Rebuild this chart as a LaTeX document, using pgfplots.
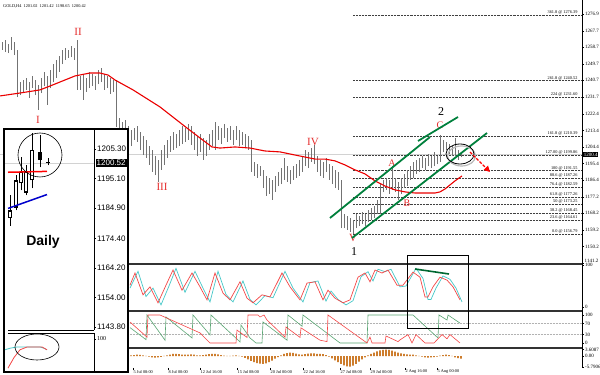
\documentclass[border=0pt]{standalone}
\usepackage{pgfplots}
\pgfplotsset{compat=1.18}
\usepackage{pgfplotstable}
\usepackage{fontspec}
\setmainfont{Liberation Serif}
\newfontfamily\arial{Liberation Sans}
\usetikzlibrary{arrows.meta}
\definecolor{mared}{RGB}{235,0,0}
\definecolor{lblred}{RGB}{230,45,45}
\definecolor{chgreen}{RGB}{0,128,60}
\definecolor{stcyan}{RGB}{70,200,200}
\definecolor{stred}{RGB}{245,70,70}
\definecolor{argreen}{RGB}{90,165,115}
\definecolor{osma}{RGB}{205,125,45}
\definecolor{barg}{RGB}{115,115,115}
\newcommand{\tk}{\fontsize{5}{6}\selectfont}
\newcommand{\fb}{\fontsize{4.3}{5}\selectfont}

\pgfplotsset{mt/.style={scale only axis, width=582pt, xmin=0, xmax=582,
  axis x line=none, axis y line*=right,
  axis line style={black, line width=0.5pt},
  every tick/.style={black, line width=0.4pt},
  major tick length=2pt, tick align=outside,
  yticklabel style={font=\tk, inner sep=1pt}, xtick=\empty},
  rng/.style={draw=none, no marks, error bars/.cd, y dir=plus, y explicit, error mark=none}}

\pgfplotstableread{
x lo hi
2 1257.3 1261.6
5 1256.2 1262.7
8 1255.6 1260.5
11 1257.3 1264.3
14 1254.5 1261.6
17 1231.6 1257.3
20 1232.7 1239.8
23 1234.4 1240.9
26 1235.5 1242.0
29 1231.1 1239.8
32 1236.5 1243.1
35 1232.7 1240.9
38 1224.6 1238.2
41 1233.8 1242.0
44 1237.6 1245.3
47 1227.3 1243.1
50 1236.5 1246.4
53 1239.8 1249.6
56 1242.0 1251.8
59 1245.3 1254.0
62 1249.6 1257.3
65 1251.8 1258.3
68 1252.9 1257.3
71 1253.4 1259.4
74 1251.8 1258.3
77 1235.5 1262.7
80 1235.5 1243.1
83 1230.0 1244.2
86 1234.4 1242.0
89 1236.5 1245.3
92 1237.6 1244.2
95 1235.5 1243.1
98 1238.7 1246.4
101 1239.8 1247.4
104 1235.5 1244.2
107 1236.5 1243.1
110 1233.3 1242.0
113 1234.4 1240.9
116 1215.3 1240.9
119 1212.6 1220.2
122 1208.2 1218.0
125 1210.9 1219.1
128 1207.1 1215.8
131 1204.9 1213.7
134 1208.2 1214.7
137 1207.1 1215.8
140 1202.8 1212.6
143 1200.0 1210.4
146 1198.4 1208.2
149 1194.6 1204.9
152 1190.8 1202.8
155 1189.1 1199.5
158 1185.3 1197.3
161 1191.9 1202.8
164 1194.6 1205.5
167 1198.4 1208.2
170 1201.7 1210.4
173 1202.8 1212.6
176 1203.8 1211.5
179 1204.9 1213.7
182 1206.0 1215.8
185 1207.1 1214.7
188 1208.2 1216.9
191 1205.5 1215.8
194 1202.8 1212.6
197 1199.5 1210.4
200 1201.7 1211.5
203 1197.3 1209.3
206 1199.5 1208.2
209 1202.8 1211.5
212 1204.9 1213.7
215 1202.8 1218.0
218 1208.2 1215.8
221 1206.0 1214.7
224 1209.3 1216.9
227 1207.1 1214.7
230 1208.2 1215.8
233 1205.5 1213.7
236 1208.2 1215.8
239 1204.9 1213.7
242 1205.5 1212.6
245 1203.8 1211.5
248 1202.8 1210.4
251 1190.8 1208.2
254 1188.6 1196.2
257 1187.5 1195.1
260 1188.6 1194.0
263 1182.0 1191.9
266 1177.7 1188.6
269 1178.8 1187.5
272 1175.5 1186.4
275 1179.9 1188.6
278 1183.1 1190.8
281 1184.2 1192.9
284 1186.4 1198.4
287 1185.3 1194.0
290 1184.2 1191.9
293 1186.4 1194.0
296 1187.5 1195.1
299 1188.6 1197.3
302 1190.8 1199.5
305 1194.0 1202.8
308 1192.9 1201.7
311 1196.2 1203.8
314 1195.1 1205.5
317 1190.8 1199.5
320 1188.6 1197.3
323 1187.5 1196.2
326 1190.8 1198.4
329 1186.4 1195.1
332 1184.2 1194.0
335 1182.0 1191.9
338 1181.0 1190.8
341 1160.2 1186.4
344 1160.2 1167.9
347 1159.2 1166.8
350 1158.1 1165.7
353 1157.0 1164.6
356 1160.2 1167.9
359 1161.3 1166.8
362 1162.4 1169.0
365 1161.3 1167.9
368 1163.5 1170.1
371 1164.6 1171.1
374 1165.7 1172.2
377 1167.9 1175.5
380 1167.9 1184.2
383 1179.9 1186.4
386 1181.0 1187.5
389 1178.8 1186.4
392 1181.0 1194.0
395 1179.9 1187.5
398 1175.5 1185.3
401 1178.8 1187.5
404 1182.0 1189.7
407 1183.1 1191.9
410 1186.4 1194.0
413 1187.5 1196.2
416 1189.7 1197.3
419 1190.8 1198.4
422 1192.9 1199.5
425 1191.9 1198.4
428 1194.0 1200.6
431 1192.9 1199.5
434 1194.0 1201.7
437 1195.1 1199.5
440 1196.2 1210.9
443 1201.7 1208.2
446 1202.8 1207.1
449 1200.6 1206.0
452 1199.5 1204.9
455 1199.5 1209.3
458 1197.3 1202.8
461 1198.65 1201.42
}\bars

\pgfplotstableread{
x lo hi bl bh
10 1178.8 1189.3 1181.6 1184.1
16 1184.1 1196.2 1185.1 1194.5
21 1191.0 1202.5 1193.5 1197.5
26 1189.3 1199.7 1190.3 1197.3
32 1191.7 1210.9 1194.5 1204.9
40 1199.0 1210.2 1201.5 1204.2
48 1199.7 1202.2 1200.6 1200.9
}\daily

\pgfplotstableread{
x bl bh
10 1182.0 1183.7
16 1185.5 1194.1
21 1193.9 1197.1
26 1190.7 1196.9
32 1194.9 1204.5
}\dailywhite

\begin{document}
\begin{tikzpicture}
\path[use as bounding box] (0pt,0pt) rectangle (600pt,375pt);
\fill[white] (0pt,0pt) rectangle (600pt,375pt);

% ---------------- main price panel
\begin{axis}[mt, at={(0pt,111pt)}, anchor=south west, height=264pt,
  ymin=1140.6, ymax=1284.5,
  ytick={1276.9,1267.7,1258.7,1249.7,1240.7,1231.7,1222.4,1213.4,1204.4,1195.4,1186.4,1177.2,1168.2,1159.2,1150.2,1141.2},
  yticklabels={1276.9,1267.7,1258.7,1249.7,1240.7,1231.7,1222.4,1213.4,1204.4,1195.4,1186.4,1177.2,1168.2,1159.2,1150.2,},
  ]
\addplot[gray!35, line width=0.7pt] coordinates {(0,1200.42) (582,1200.42)};
\addplot[densely dotted, black!75, line width=0.45pt] coordinates {(353,1276.39) (582,1276.39)};
\addplot[densely dotted, black!75, line width=0.45pt] coordinates {(353,1240.52) (582,1240.52)};
\addplot[densely dotted, black!75, line width=0.45pt] coordinates {(353,1231.60) (582,1231.60)};
\addplot[densely dotted, black!75, line width=0.45pt] coordinates {(353,1210.39) (582,1210.39)};
\addplot[densely dotted, black!75, line width=0.45pt] coordinates {(353,1199.86) (582,1199.86)};
\addplot[densely dotted, black!75, line width=0.45pt] coordinates {(353,1191.55) (582,1191.55)};
\addplot[densely dotted, black!75, line width=0.45pt] coordinates {(353,1187.26) (582,1187.26)};
\addplot[densely dotted, black!75, line width=0.45pt] coordinates {(353,1182.59) (582,1182.59)};
\addplot[densely dotted, black!75, line width=0.45pt] coordinates {(353,1177.26) (582,1177.26)};
\addplot[densely dotted, black!75, line width=0.45pt] coordinates {(353,1173.25) (582,1173.25)};
\addplot[densely dotted, black!75, line width=0.45pt] coordinates {(353,1168.45) (582,1168.45)};
\addplot[densely dotted, black!75, line width=0.45pt] coordinates {(353,1164.61) (582,1164.61)};
\addplot[densely dotted, black!75, line width=0.45pt] coordinates {(353,1156.79) (582,1156.79)};
\node[anchor=south east, inner sep=0.4pt, font=\fb] at (axis cs:578,1276.39) {361.8 @ 1276.39};
\node[anchor=south east, inner sep=0.4pt, font=\fb] at (axis cs:578,1240.52) {261.8 @ 1240.52};
\node[anchor=south east, inner sep=0.4pt, font=\fb] at (axis cs:578,1231.60) {224 @ 1231.60};
\node[anchor=south east, inner sep=0.4pt, font=\fb] at (axis cs:578,1210.39) {161.8 @ 1210.39};
\node[anchor=south east, inner sep=0.4pt, font=\fb] at (axis cs:578,1199.86) {127.00 @ 1199.86};
\node[anchor=south east, inner sep=0.4pt, font=\fb] at (axis cs:578,1191.55) {100 @ 1191.55};
\node[anchor=south east, inner sep=0.4pt, font=\fb] at (axis cs:578,1187.26) {88.6 @ 1187.26};
\node[anchor=south east, inner sep=0.4pt, font=\fb] at (axis cs:578,1182.59) {76.4 @ 1182.59};
\node[anchor=south east, inner sep=0.4pt, font=\fb] at (axis cs:578,1177.26) {61.8 @ 1177.26};
\node[anchor=south east, inner sep=0.4pt, font=\fb] at (axis cs:578,1173.25) {50 @ 1173.25};
\node[anchor=south east, inner sep=0.4pt, font=\fb] at (axis cs:578,1168.45) {38.2 @ 1168.45};
\node[anchor=south east, inner sep=0.4pt, font=\fb] at (axis cs:578,1164.61) {23.6 @ 1164.61};
\node[anchor=south east, inner sep=0.4pt, font=\fb] at (axis cs:578,1156.79) {0.0 @ 1156.79};
% price bars
\addplot[rng, error bar style={draw=barg, line width=0.75pt}]
  table[x=x, y=lo, y error plus expr=\thisrow{hi}-\thisrow{lo}] {\bars};
% moving average
\addplot[mared, line width=1.1pt] coordinates {
(0,1232.2) (20,1233.8) (40,1235.5) (50,1237.6) (60,1239.8) (75,1243.1) (90,1244.7) (100,1244.7)
(108,1243.6) (115,1240.9) (133,1235.5) (160,1226.2) (187,1214.7) (200,1209.3) (212,1204.4)
(220,1203.8) (235,1204.4) (250,1203.8) (265,1202.2) (280,1201.7) (295,1200.0) (305,1198.9)
(315,1197.8) (325,1197.8) (335,1196.8) (345,1194.6) (355,1191.9) (365,1189.7) (375,1185.9)
(385,1183.1) (395,1181.0) (405,1179.9) (415,1179.3) (425,1179.3) (435,1179.3) (440,1179.9)
(445,1181.5) (450,1183.7) (455,1185.9) (462,1188.6)};
\end{axis}

% ---------------- stochastic panel
\begin{axis}[mt, at={(0pt,64pt)}, anchor=south west, height=47pt,
  ymin=-9.5, ymax=102.4, ytick={0,100}, yticklabels={0,100}]
\addplot[stcyan, line width=0.7pt] coordinates {
(130,45)(138,85)(146,25)(153,45)(161,5)(169,50)(176,92)(185,35)(195,85)(203,45)(210,12)(218,85)
(226,30)(233,12)(243,62)(250,18)(256,5)(265,27)(273,22)(285,85)(293,45)(303,12)(310,58)(318,62)
(326,14)(331,38)(338,18)(346,5)(353,15)(361,72)(368,84)(373,62)(378,90)(385,84)(391,90)(400,48)
(406,50)(416,92)(423,68)(428,18)(431,18)(436,45)(443,74)(450,66)(456,45)(462,12)};
\addplot[stred, line width=0.7pt] coordinates {
(130,52)(135,81)(143,29)(150,48)(158,10)(166,52)(173,88)(182,40)(192,81)(200,48)(207,17)(215,81)
(223,33)(230,17)(240,60)(247,21)(253,10)(262,29)(270,24)(282,81)(290,48)(300,17)(307,57)(315,60)
(323,17)(328,40)(335,21)(343,10)(350,17)(358,71)(365,81)(370,60)(375,88)(382,81)(388,88)(397,52)
(403,52)(413,83)(420,71)(425,24)(428,24)(433,48)(440,71)(447,64)(453,48)(460,17)};
\end{axis}

% ---------------- aroon panel
\begin{axis}[mt, at={(0pt,27pt)}, anchor=south west, height=37pt,
  ymin=-17.9, ymax=114.3, ytick={0,30,70,100}, yticklabels={0,30,70,100}]
\addplot[densely dotted, gray!60, line width=0.5pt] coordinates {(128,70) (582,70)};
\addplot[densely dotted, gray!60, line width=0.5pt] coordinates {(128,30) (582,30)};
\addplot[argreen, line width=0.6pt] coordinates {
(130,55)(146,12)(147,100)(165,10)(166,93)(192,18)(193,100)(210,29)(211,100)(240,4)(241,64)(250,18)
(256,0)(262,0)(263,75)(287,10)(288,100)(302,60)(303,100)(340,0)(367,0)(368,100)(413,100)(438,18)
(439,100)(447,82)(448,100)(460,71)};
\addplot[stred, line width=0.6pt] coordinates {
(130,75)(147,21)(148,100)(160,100)(200,36)(210,0)(236,0)(237,46)(247,20)(248,100)(258,100)(260,93)
(264,100)(267,82)(285,21)(286,57)(300,20)(301,54)(320,10)(327,5)(328,100)(367,0)(370,21)(372,0)
(385,0)(386,25)(398,5)(400,11)(408,30)(412,0)(416,30)(425,0)(434,0)(442,30)(447,15)(450,30)(460,0)};
\end{axis}

% ---------------- histogram panel
\begin{axis}[mt, at={(0pt,7pt)}, anchor=south west, height=20pt,
  ymin=-6.5, ymax=4.5, ytick={-5.7906,0,3.6087}, yticklabels={-5.7906,0.00,3.6087},
  axis x line*=bottom]
\addplot[ybar, bar width=1.7pt, fill=osma, draw=none] coordinates {
(131,0.4)(134,0.6)(137,0.8)(140,0.7)(143,0.5)(146,0.2)(149,-0.3)(152,-0.6)(155,-0.8)(158,-0.7)
(161,-0.4)(164,0.1)(167,0.5)(170,0.9)(173,1.2)(176,1.3)(179,1.1)(182,0.9)(185,0.8)(188,0.9)
(191,1.0)(194,0.8)(197,0.5)(200,0.4)(203,0.6)(206,0.9)(209,1.1)(212,1.2)(215,1.3)(218,1.0)
(221,0.6)(224,0.3)(227,0.2)(230,0.1)(233,0.3)(236,0.4)(239,0.2)(242,-0.3)(245,-1.0)(248,-1.8)
(251,-2.6)(254,-3.3)(257,-3.8)(260,-4.1)(263,-4.2)(266,-3.9)(269,-3.3)(272,-2.4)(275,-1.4)(278,-0.5)
(281,0.4)(284,1.2)(287,1.7)(290,1.9)(293,1.8)(296,1.4)(299,1.0)(302,0.9)(305,1.1)(308,1.4)
(311,1.6)(314,1.5)(317,1.2)(320,1.3)(323,1.1)(326,0.6)(329,-0.2)(332,-1.2)(335,-2.3)(338,-3.3)
(341,-4.3)(344,-5.1)(347,-5.6)(350,-5.8)(353,-5.2)(356,-4.2)(359,-3.0)(362,-1.8)(365,-0.7)(368,0.4)
(371,1.2)(374,2.0)(377,2.7)(380,3.2)(383,3.5)(386,3.6)(389,3.4)(392,3.0)(395,2.5)(398,2.0)
(401,1.5)(404,1.2)(407,1.0)(410,0.9)(413,0.8)(416,0.5)(419,0.1)(422,-0.3)(425,-0.6)(428,-0.8)
(431,-0.7)(434,-0.5)(437,-0.2)(440,0.3)(443,0.6)(446,0.8)(449,0.6)(452,0.1)(455,-0.6)(458,-1.1)
(461,-1.4)};
\end{axis}

% ---------------- annotations over main chart (pixel coordinates, y downward)
\begin{scope}[x=1pt, y=-1pt, yshift=375pt]
\node[anchor=west, inner sep=0pt, font=\fb] at (3,6) {GOLD,H4 \ 1201.02 \ 1201.42 \ 1198.65 \ 1200.42};
\node[anchor=west, inner sep=0.5pt, font=\tk] at (584,260.5) {1141.2};
\draw[black!80, line width=1.3pt] (128,264) -- (582,264);
\draw[black!80, line width=1.3pt] (128,311) -- (582,311);
\draw[black!80, line width=1.3pt] (128,348) -- (582,348);
\node[fill=black, text=white, anchor=west, inner sep=0.6pt, font=\tk] at (583,154.5) {1200.4};
% date labels
\foreach \xx/\dd in {133/5 Jul 08:00,168/8 Jul 00:00,200/12 Jul 16:00,237/15 Jul 08:00,270/20 Jul 00:00,303/22 Jul 16:00,340/27 Jul 08:00,370/29 Jul 00:00,405/2 Aug 16:00,437/5 Aug 00:00}{
  \draw[black, line width=0.4pt] (\xx,368) -- (\xx,370.5);
  \node[anchor=west, inner sep=0pt, font=\fb] at (\xx+0.5,372) {\dd};
}
% wave labels
\node[text=lblred, font=\fontsize{11}{11}\selectfont] at (38,120) {I};
\node[text=lblred, font=\fontsize{11}{11}\selectfont] at (78,32) {II};
\node[text=lblred, font=\fontsize{11}{11}\selectfont] at (162,187) {III};
\node[text=lblred, font=\fontsize{11}{11}\selectfont] at (313,142) {IV};
\node[text=lblred, font=\fontsize{11}{11}\selectfont] at (353,238) {V};
\node[text=lblred, font=\fontsize{10}{10}\selectfont] at (392,163) {A};
\node[text=lblred, font=\fontsize{10}{10}\selectfont] at (407,203) {B};
\node[text=lblred, font=\fontsize{10}{10}\selectfont] at (440,125) {C};
\node[font=\fontsize{12}{12}\selectfont] at (354,252) {1};
\node[font=\fontsize{12}{12}\selectfont] at (441,112) {2};
% channel
\draw[chgreen, line width=1.8pt] (330,218) -- (430,137);
\draw[chgreen, line width=1.8pt] (418,141) -- (458,117);
\draw[chgreen, line width=1.8pt] (352,238) -- (487,133);
% ellipse + arrow
\draw[gray!55, line width=1.2pt] (461.5,156) ellipse (14 and 10);
\draw[black, line width=0.8pt] (460,154) ellipse (14 and 10);
\draw[red, line width=1.3pt, dash pattern=on 3pt off 1.5pt, -{Triangle[length=6pt,width=6pt]}] (470,152) -- (490,172);
% box on oscillators
\draw[black, line width=0.9pt] (407,255) rectangle (468,328);
\draw[chgreen!80!black, line width=1.6pt] (415,269) -- (449,274);
% inset background
\fill[white] (4,129) rectangle (128,372);
\end{scope}

% ---------------- daily inset, price
\begin{axis}[scale only axis, at={(5pt,45pt)}, anchor=south west, width=89pt, height=200pt,
  xmin=5, xmax=94, ymin=1142.8, ymax=1211.9,
  axis x line=none, axis y line*=right, axis line style={black, line width=0.8pt},
  every tick/.style={black, line width=0.4pt}, major tick length=2pt, tick align=outside, xtick=\empty,
  ytick={1205.30,1195.10,1184.90,1174.40,1164.20,1154.00,1143.80},
  yticklabels={1205.30,1195.10,1184.90,1174.40,1164.20,1154.00,1143.80},
  yticklabel style={font=\arial\fontsize{8}{9}\selectfont, inner sep=1pt}]
\addplot[gray!35, line width=0.6pt] coordinates {(5,1200.52) (94,1200.52)};
\addplot[rng, error bar style={draw=black, line width=0.6pt}]
  table[x=x, y=lo, y error plus expr=\thisrow{hi}-\thisrow{lo}] {\daily};
\addplot[rng, error bar style={draw=black, line width=3.6pt}]
  table[x=x, y=bl, y error plus expr=\thisrow{bh}-\thisrow{bl}] {\daily};
\addplot[rng, error bar style={draw=white, line width=2.2pt}]
  table[x=x, y=bl, y error plus expr=\thisrow{bh}-\thisrow{bl}] {\dailywhite};
\addplot[red, line width=1.5pt] coordinates {(8,1197.3) (47,1197.6)};
\addplot[blue!80!black, line width=1.5pt] coordinates {(8,1184.8) (47,1189.6)};
\end{axis}

% ---------------- daily inset, oscillator
\begin{axis}[scale only axis, at={(5pt,3pt)}, anchor=south west, width=89pt, height=39pt,
  xmin=5, xmax=94, ymin=-6.5, ymax=119,
  axis x line=none, axis y line*=right, axis line style={black, line width=0.8pt},
  every tick/.style={black, line width=0.4pt}, major tick length=2pt, tick align=outside, xtick=\empty,
  ytick={100}, yticklabels={100}, yticklabel style={font=\fontsize{6}{7}\selectfont, inner sep=1pt}]
\addplot[stcyan, line width=0.8pt] coordinates {(5,65)(10,70)(17,74)(40,74)(44,70)(47,65)};
\addplot[stred, line width=0.8pt] coordinates {(8,6)(14,40)(20,65)(27,74)(42,74)(47,65)};
\end{axis}

\begin{scope}[x=1pt, y=-1pt, yshift=375pt]
\draw[black, line width=0.6pt] (8,330) -- (94,330);
\draw[black, line width=0.6pt] (8,333) -- (94,333);
\draw[black, line width=0.6pt] (40,155) circle (22);
\draw[black, line width=0.6pt] (37,347) ellipse (22 and 13);
\node[font=\arial\bfseries\fontsize{14}{14}\selectfont] at (43,242) {Daily};
\node[fill=black, text=white, anchor=west, inner sep=1pt, font=\arial\fontsize{8}{9}\selectfont] at (95.5,163) {1200.52};
\draw[black, line width=2pt] (4,129) rectangle (128,372);
\end{scope}
\end{tikzpicture}
\end{document}
